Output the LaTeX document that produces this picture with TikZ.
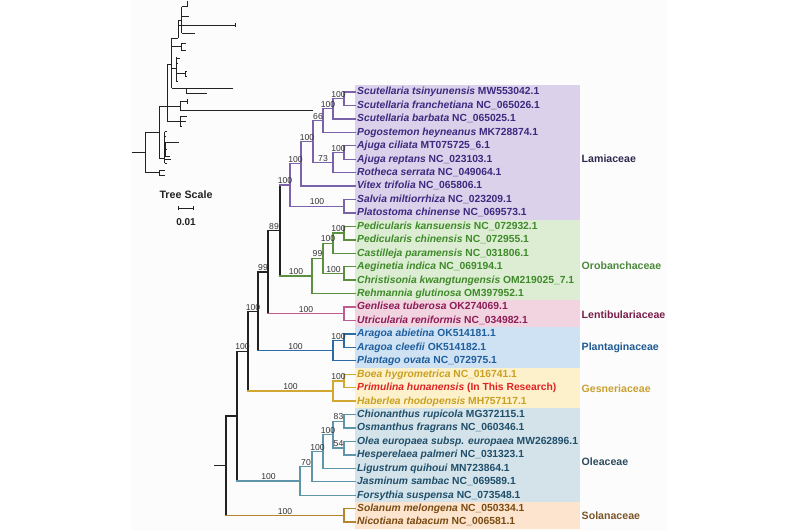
\documentclass[tikz,border=0pt]{standalone}
\usepackage{fontspec}
\setmainfont{Liberation Sans}
\usetikzlibrary{calc}
\definecolor{lamT}{HTML}{3B2A80}\definecolor{lamB}{HTML}{DCD1EA}\definecolor{lamL}{HTML}{7A63AB}
\definecolor{oroT}{HTML}{3F8A2A}\definecolor{oroB}{HTML}{DCEDD3}\definecolor{oroL}{HTML}{5A9040}
\definecolor{lenT}{HTML}{8C1D55}\definecolor{lenB}{HTML}{F2D4E1}\definecolor{lenL}{HTML}{C05C90}
\definecolor{plaT}{HTML}{1E5E9E}\definecolor{plaB}{HTML}{CFE2F3}\definecolor{plaL}{HTML}{2C6CA4}
\definecolor{gesT}{HTML}{C9A020}\definecolor{gesB}{HTML}{FDF1CC}\definecolor{gesL}{HTML}{D2A830}
\definecolor{primT}{HTML}{E02222}
\definecolor{oleT}{HTML}{1F4F6B}\definecolor{oleB}{HTML}{D4E3EA}\definecolor{oleL}{HTML}{5E95AA}
\definecolor{solT}{HTML}{7A4B12}\definecolor{solB}{HTML}{FCE4CE}\definecolor{solL}{HTML}{B5852E}
\definecolor{bk}{HTML}{222222}\definecolor{supc}{HTML}{333333}\definecolor{panel}{HTML}{FCFCFC}
\definecolor{lamF}{HTML}{2E2B4F}\definecolor{oroF}{HTML}{4A8A3A}\definecolor{lenF}{HTML}{7A1E4A}
\definecolor{plaF}{HTML}{1F5A94}\definecolor{gesF}{HTML}{C9A030}\definecolor{oleF}{HTML}{2C4A5E}
\definecolor{solF}{HTML}{7B5428}
\newcommand\tedge[5]{%
  \draw[branch,draw=#3] (#1) -- (#1 |- #2);
  \draw[branch,draw=#4] (#1 |- #2) -- node[sup]{#5} (#2);}
\newcommand\lf[4]{\node[leaf,text=#2] (l#1) at (355,{92+13.44*(#1-1)}) {\textit{#3} #4};}
\begin{document}
\begin{tikzpicture}[x=1pt,y=-1pt,
  branch/.style={line width=1.35pt,line cap=rect},
  inset/.style={line width=1pt,draw=bk},
  sup/.style={above,inner sep=0.6pt,font=\fontsize{8.6}{10}\selectfont,text=supc},
  leaf/.style={anchor=west,inner xsep=2pt,inner ysep=0pt,text height=7.4pt,text depth=1.6pt,
     font=\bfseries\fontsize{10.3}{12}\selectfont},
  fam/.style={anchor=west,inner sep=0pt,font=\bfseries\fontsize{10.6}{12}\selectfont}]
\useasboundingbox (0,0) rectangle (800,530);
\fill[panel] (131,0) rectangle (667,530);
% clade boxes
\fill[lamB] (355,85.28) rectangle (580,219.68);
\fill[oroB] (355,219.68) rectangle (580,300.32);
\fill[lenB] (355,300.32) rectangle (580,327.20);
\fill[plaB] (355,327.20) rectangle (580,367.52);
\fill[gesB] (355,367.52) rectangle (580,407.84);
\fill[oleB] (355,407.84) rectangle (580,501.92);
\fill[solB] (355,501.92) rectangle (580,528.80);
% leaves
\lf{1}{lamT}{Scutellaria tsinyunensis}{MW553042.1}
\lf{2}{lamT}{Scutellaria franchetiana}{NC\_065026.1}
\lf{3}{lamT}{Scutellaria barbata}{NC\_065025.1}
\lf{4}{lamT}{Pogostemon heyneanus}{MK728874.1}
\lf{5}{lamT}{Ajuga ciliata}{MT075725\_6.1}
\lf{6}{lamT}{Ajuga reptans}{NC\_023103.1}
\lf{7}{lamT}{Rotheca serrata}{NC\_049064.1}
\lf{8}{lamT}{Vitex trifolia}{NC\_065806.1}
\lf{9}{lamT}{Salvia miltiorrhiza}{NC\_023209.1}
\lf{10}{lamT}{Platostoma chinense}{NC\_069573.1}
\lf{11}{oroT}{Pedicularis kansuensis}{NC\_072932.1}
\lf{12}{oroT}{Pedicularis chinensis}{NC\_072955.1}
\lf{13}{oroT}{Castilleja paramensis}{NC\_031806.1}
\lf{14}{oroT}{Aeginetia indica}{NC\_069194.1}
\lf{15}{oroT}{Christisonia kwangtungensis}{OM219025\_7.1}
\lf{16}{oroT}{Rehmannia glutinosa}{OM397952.1}
\lf{17}{lenT}{Genlisea tuberosa}{OK274069.1}
\lf{18}{lenT}{Utricularia reniformis}{NC\_034982.1}
\lf{19}{plaT}{Aragoa abietina}{OK514181.1}
\lf{20}{plaT}{Aragoa cleefii}{OK514182.1}
\lf{21}{plaT}{Plantago ovata}{NC\_072975.1}
\lf{22}{gesT}{Boea hygrometrica}{NC\_016741.1}
\lf{23}{primT}{Primulina hunanensis}{(In This Research)}
\lf{24}{gesT}{Haberlea rhodopensis}{MH757117.1}
\lf{25}{oleT}{Chionanthus rupicola}{MG372115.1}
\lf{26}{oleT}{Osmanthus fragrans}{NC\_060346.1}
\lf{27}{oleT}{Olea europaea subsp. europaea}{MW262896.1}
\lf{28}{oleT}{Hesperelaea palmeri}{NC\_031323.1}
\lf{29}{oleT}{Ligustrum quihoui}{MN723864.1}
\lf{30}{oleT}{Jasminum sambac}{NC\_069589.1}
\lf{31}{oleT}{Forsythia suspensa}{NC\_073548.1}
\lf{32}{solT}{Solanum melongena}{NC\_050334.1}
\lf{33}{solT}{Nicotiana tabacum}{NC\_006581.1}
% family labels
\node[fam,text=lamF] (fLam) at (581.5,159) {Lamiaceae};
\node[fam,text=oroF] (fOro) at (581.5,266) {Orobanchaceae};
\node[fam,text=lenF] (fLen) at (581.5,315) {Lentibulariaceae};
\node[fam,text=plaF] (fPla) at (581.5,348) {Plantaginaceae};
\node[fam,text=gesF] (fGes) at (581.5,389) {Gesneriaceae};
\node[fam,text=oleF] (fOle) at (581.5,462) {Oleaceae};
\node[fam,text=solF] (fSol) at (581.5,516) {Solanaceae};
% internal nodes
\coordinate (nA) at (344,98.72);
\coordinate (nB) at (333,108.80);
\coordinate (nC) at (323,120.56);
\coordinate (nD) at (344,152.48);
\coordinate (nE) at (333,162.56);
\coordinate (nF) at (313,141.56);
\coordinate (nG) at (301,163.82);
\coordinate (nH) at (344,206.24);
\coordinate (nLam) at (290,185.03);
\coordinate (nI) at (344,233.12);
\coordinate (nJ) at (333,243.20);
\coordinate (nK) at (344,273.44);
\coordinate (nL) at (323,258.32);
\coordinate (nOro) at (312,275.96);
\coordinate (n89) at (280,230.50);
\coordinate (nLen) at (344,313.76);
\coordinate (n99) at (268,272.13);
\coordinate (nM) at (344,340.64);
\coordinate (nPla) at (333,350.72);
\coordinate (n258) at (258,311.42);
\coordinate (nN) at (344,380.96);
\coordinate (nGes) at (333,391.04);
\coordinate (n248) at (248,351.23);
\coordinate (nO) at (344,421.28);
\coordinate (nP) at (344,448.16);
\coordinate (nQ) at (333,434.72);
\coordinate (nR) at (323,451.52);
\coordinate (nS) at (312,466.64);
\coordinate (nOle) at (300,480.92);
\coordinate (n237) at (237,416.08);
\coordinate (nSol) at (344,515.36);
\coordinate (root) at (226,465.72);
\coordinate (stub) at (215,465.72);
% Lamiaceae
\tedge{nA}{l1}{lamL}{lamL}{}
\tedge{nA}{l2}{lamL}{lamL}{}
\tedge{nB}{nA}{lamL}{lamL}{100}
\tedge{nB}{l3}{lamL}{lamL}{}
\tedge{nC}{nB}{lamL}{lamL}{100}
\tedge{nC}{l4}{lamL}{lamL}{}
\tedge{nF}{nC}{lamL}{lamL}{66}
\tedge{nD}{l5}{lamL}{lamL}{}
\tedge{nD}{l6}{lamL}{lamL}{}
\tedge{nE}{nD}{lamL}{lamL}{100}
\tedge{nE}{l7}{lamL}{lamL}{}
\tedge{nF}{nE}{lamL}{lamL}{73}
\tedge{nG}{nF}{lamL}{lamL}{100}
\tedge{nG}{l8}{lamL}{lamL}{}
\tedge{nH}{l9}{lamL}{lamL}{}
\tedge{nH}{l10}{lamL}{lamL}{}
\tedge{nLam}{nG}{lamL}{lamL}{100}
\tedge{nLam}{nH}{lamL}{lamL}{100}
\tedge{n89}{nLam}{bk}{lamL}{100}
% Orobanchaceae
\tedge{nI}{l11}{oroL}{oroL}{}
\tedge{nI}{l12}{oroL}{oroL}{}
\tedge{nJ}{nI}{oroL}{oroL}{100}
\tedge{nJ}{l13}{oroL}{oroL}{}
\tedge{nK}{l14}{oroL}{oroL}{}
\tedge{nK}{l15}{oroL}{oroL}{}
\tedge{nL}{nJ}{oroL}{oroL}{100}
\tedge{nL}{nK}{oroL}{oroL}{100}
\tedge{nOro}{nL}{oroL}{oroL}{99}
\tedge{nOro}{l16}{oroL}{oroL}{}
\tedge{n89}{nOro}{bk}{oroL}{100}
\tedge{n99}{n89}{bk}{bk}{89}
% Lentibulariaceae
\tedge{nLen}{l17}{lenL}{lenL}{}
\tedge{nLen}{l18}{lenL}{lenL}{}
\tedge{n99}{nLen}{bk}{lenL}{100}
\tedge{n258}{n99}{bk}{bk}{99}
% Plantaginaceae
\tedge{nM}{l19}{plaL}{plaL}{}
\tedge{nM}{l20}{plaL}{plaL}{}
\tedge{nPla}{nM}{plaL}{plaL}{100}
\tedge{nPla}{l21}{plaL}{plaL}{}
\tedge{n258}{nPla}{bk}{plaL}{100}
\tedge{n248}{n258}{bk}{bk}{100}
% Gesneriaceae
\tedge{nN}{l22}{gesL}{gesL}{}
\tedge{nN}{l23}{gesL}{gesL}{}
\tedge{nGes}{nN}{gesL}{gesL}{100}
\tedge{nGes}{l24}{gesL}{gesL}{}
\tedge{n248}{nGes}{bk}{gesL}{100}
\tedge{n237}{n248}{bk}{bk}{100}
% Oleaceae
\tedge{nO}{l25}{oleL}{oleL}{}
\tedge{nO}{l26}{oleL}{oleL}{}
\tedge{nP}{l27}{oleL}{oleL}{}
\tedge{nP}{l28}{oleL}{oleL}{}
\tedge{nQ}{nO}{oleL}{oleL}{83}
\tedge{nQ}{nP}{oleL}{oleL}{54}
\tedge{nR}{nQ}{oleL}{oleL}{100}
\tedge{nR}{l29}{oleL}{oleL}{}
\tedge{nS}{nR}{oleL}{oleL}{100}
\tedge{nS}{l30}{oleL}{oleL}{}
\tedge{nOle}{nS}{oleL}{oleL}{70}
\tedge{nOle}{l31}{oleL}{oleL}{}
\tedge{n237}{nOle}{bk}{oleL}{100}
\tedge{root}{n237}{bk}{bk}{}
% Solanaceae
\tedge{nSol}{l32}{solL}{solL}{}
\tedge{nSol}{l33}{solL}{solL}{}
\tedge{root}{nSol}{bk}{solL}{100}
\draw[branch,draw=bk] (stub) -- (root);
% inset tree with branch lengths
\draw[inset] (131.7,152.7) -- (145.7,152.7);
\draw[inset] (145.7,132.3) -- (145.7,172.7);
\draw[inset] (145.7,172.7) -- (159.3,172.7);
\draw[inset] (159.3,170) -- (159.3,175);
\draw[inset] (159.3,170) -- (165,170);
\draw[inset] (159.3,175) -- (165,175);
\draw[inset] (145.7,132.3) -- (159.3,132.3);
\draw[inset] (159.3,106) -- (159.3,158.3);
\draw[inset] (159.3,158.3) -- (164.5,158.3);
\draw[inset] (164.5,131.7) -- (164.5,163.3);
\draw[inset,line width=1.6pt] (165.5,143) -- (165.5,157);
\draw[inset] (164.5,142.7) -- (179.3,142.7);
\draw[inset] (164.5,131.7) -- (166.5,131.7);
\draw[inset] (164.5,136) -- (166,136);
\draw[inset] (164.5,149) -- (166.5,149);
\draw[inset] (164.5,156.7) -- (170,156.7);
\draw[inset] (164.5,159.3) -- (170.7,159.3);
\draw[inset] (164.5,163.3) -- (166.7,163.3);
\draw[inset] (159.3,106) -- (167.7,106);
\draw[inset] (167.7,64) -- (167.7,121.7);
\draw[inset] (167.7,106) -- (180,106);
\draw[inset] (180,101.7) -- (180,110);
\draw[inset] (180,101.7) -- (187.3,101.7);
\draw[inset] (187.3,99) -- (187.3,104.3);
\draw[inset] (180,110) -- (313,110);
\draw[inset] (167.7,121.7) -- (180,121.7);
\draw[inset] (180,116.7) -- (180,126);
\draw[inset] (180,116.7) -- (187.3,116.7);
\draw[inset] (180,121.7) -- (186,121.7);
\draw[inset] (180,126) -- (182,126);
\draw[inset] (167.7,64) -- (171.7,64);
\draw[inset] (171.7,38.3) -- (171.7,88.3);
\draw[inset] (171.7,88.3) -- (232.7,88.3);
\draw[inset] (186.7,88.3) -- (186.7,93.3) -- (206.7,93.3);
\draw[inset] (171.7,38.3) -- (178.3,38.3);
\draw[inset] (178.3,20) -- (178.3,38.3);
\draw[inset] (178.3,20) -- (181.7,20);
\draw[inset] (181.7,6.7) -- (181.7,33.3);
\draw[inset] (181.7,6.7) -- (187.3,6.7);
\draw[inset] (187.3,0.5) -- (187.3,6.7);
\draw[inset] (181.7,16.7) -- (189.3,16.7);
\draw[inset] (178.3,25) -- (235,25);
\draw[inset] (235,22.7) -- (235,27.3);
\draw[inset] (181.7,33.3) -- (195,33.3);
\draw[inset] (171.7,46.7) -- (181,46.7);
\draw[inset] (181,43.3) -- (181,50);
\draw[inset] (181,43.3) -- (186,43.3);
\draw[inset] (181,50) -- (186,50);
\draw[inset] (171.7,68) -- (176,68);
\draw[inset] (176,56.7) -- (176,81.7);
\draw[inset] (176,58.3) -- (180,58.3);
\draw[inset] (176,63.3) -- (178.3,63.3);
\draw[inset] (176,73.3) -- (185,73.3);
\draw[inset] (185,71) -- (185,76.7);
\draw[inset] (185,71) -- (187.3,71);
\draw[inset] (185,76.7) -- (187.3,76.7);
\draw[inset] (176,81.7) -- (178,81.7);
% tree scale
\node[font=\bfseries\fontsize{10.7}{12}\selectfont,text=bk,inner sep=0pt] (ts) at (186,195) {Tree Scale};
\coordinate (sa) at (178.3,208.3);
\coordinate (sb) at (193.3,208.3);
\draw[line width=1.3pt,draw=bk] (sa) -- (sb);
\draw[line width=0.8pt,draw=bk] ([yshift=-2pt]sa) -- ([yshift=2pt]sa);
\draw[line width=0.8pt,draw=bk] ([yshift=-2pt]sb) -- ([yshift=2pt]sb);
\node[font=\bfseries\fontsize{10}{12}\selectfont,text=bk,inner sep=0pt] (sv) at (186,222) {0.01};
\end{tikzpicture}
\end{document}
